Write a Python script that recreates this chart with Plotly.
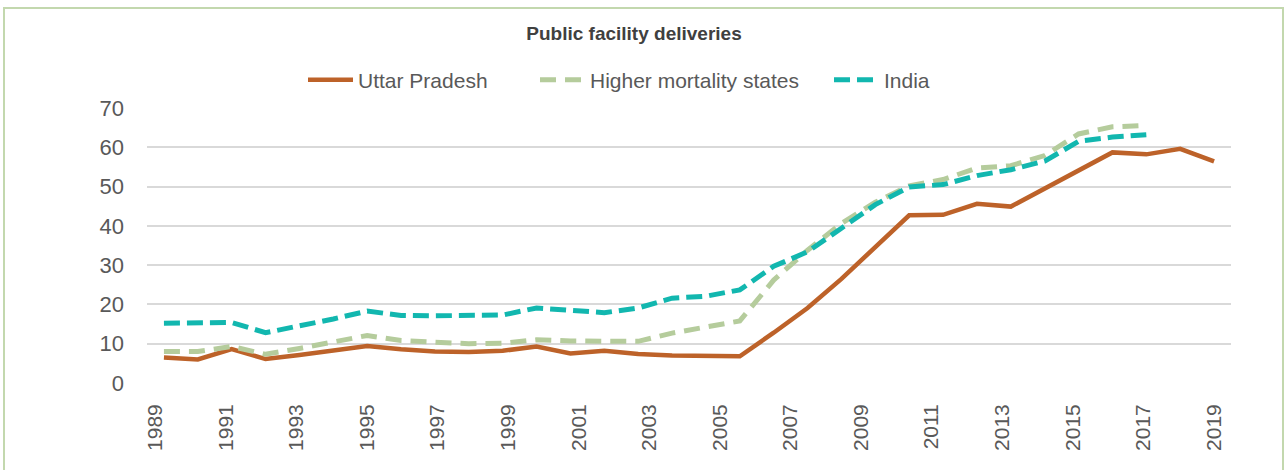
import plotly.graph_objects as go

# ---- data ----
# 32 plotted observations, evenly spaced; the axis labels run 1989-2019 (odd years)
point_index = list(range(32))
tick_years = [1989, 1991, 1993, 1995, 1997, 1999, 2001, 2003, 2005, 2007,
              2009, 2011, 2013, 2015, 2017, 2019]

uttar_pradesh = [6.5, 6.0, 8.6, 6.1, 7.1, 8.2, 9.4, 8.6, 8.0, 7.9, 8.2, 9.3,
                 7.5, 8.2, 7.4, 7.0, 6.8, 6.8, 12.8, 19.1, 26.5, 34.6, 42.7,
                 42.8, 45.6, 44.9, 49.6, 54.3, 58.7, 58.2, 59.6, 56.4]

higher_mortality = [8.0, 8.0, 9.3, 7.3, 8.8, 10.5, 12.1, 10.8, 10.3, 10.0, 10.1,
                    11.0, 10.7, 10.5, 10.6, 12.7, 14.2, 15.8, 26.2, 33.8, 40.6,
                    46.0, 50.2, 51.8, 54.7, 55.3, 57.9, 63.4, 65.2, 65.6,
                    None, None]

india = [15.2, 15.2, 15.4, 12.8, 14.5, 16.3, 18.3, 17.2, 17.1, 17.1, 17.3, 19.1,
         18.5, 17.9, 19.1, 21.6, 22.1, 23.7, 29.7, 33.4, 39.4, 45.4, 49.9, 50.5,
         52.8, 54.3, 56.5, 61.5, 62.6, 63.2, None, None]

# ---- style ----
FONT = "Liberation Sans, Arial, sans-serif"
TXT = "#595959"
W, H = 1285, 470
# plot area in page pixels: x 147..1231, y 108..383
L, R = 147, W - 1231
T, B = 108, H - 383
PW, PH = W - L - R, H - T - B


def px_x(p):          # pixel -> paper x
    return (p - L) / PW


def px_y(p):          # pixel -> paper y
    return (H - B - p) / PH


fig = go.Figure()
fig.add_trace(go.Scatter(
    x=point_index, y=uttar_pradesh, name="Uttar Pradesh", mode="lines",
    line=dict(color="#BD6229", width=4.5), legend="legend"))
fig.add_trace(go.Scatter(
    x=point_index, y=higher_mortality, name="Higher mortality states", mode="lines",
    line=dict(color="#B5CC9C", width=5, dash="16px,9px"), legend="legend2"))
fig.add_trace(go.Scatter(
    x=point_index, y=india, name="India", mode="lines",
    line=dict(color="#12B7AF", width=5, dash="16px,7px"), legend="legend3"))
# carrier for the labelled year axis
fig.add_trace(go.Scatter(
    x=[tick_years[0], tick_years[-1]], y=[None, None], xaxis="x2",
    mode="lines", showlegend=False, hoverinfo="skip"))

leg_common = dict(orientation="h", yanchor="middle", xanchor="left",
                  y=px_y(80), itemwidth=45,
                  font=dict(family=FONT, size=21, color=TXT),
                  bgcolor="rgba(0,0,0,0)")

fig.update_layout(
    width=W, height=H,
    margin=dict(l=L, r=R, t=T, b=B),
    paper_bgcolor="white", plot_bgcolor="white",
    font=dict(family=FONT, color=TXT),
    title=dict(text="<b>Public facility deliveries</b>", xref="container",
               x=634 / W, y=1 - 33 / H,
               xanchor="center", yanchor="middle",
               font=dict(family=FONT, size=19, color="#404040")),
    legend=dict(leg_common, x=px_x(303)),
    legend2=dict(leg_common, x=px_x(535)),
    legend3=dict(leg_common, x=px_x(829)),
    xaxis=dict(range=[-0.5, 31.5], visible=False, showgrid=False),
    xaxis2=dict(overlaying="x", anchor="y", side="bottom",
                range=[1988.77, 2019.48], tickmode="array",
                tickvals=tick_years, ticktext=[str(y) for y in tick_years],
                tickangle=-90, showgrid=False, zeroline=False, showline=False,
                ticks="", ticklabelstandoff=16,
                tickfont=dict(family=FONT, size=21, color=TXT)),
    yaxis=dict(range=[0, 70], dtick=10, showgrid=True, gridcolor="#D9D9D9",
               gridwidth=2, zeroline=False, showline=False, ticks="",
               ticklabelstandoff=22,
               tickfont=dict(family=FONT, size=22, color=TXT)),
    shapes=[dict(type="rect", xref="paper", yref="paper",
                 x0=px_x(4), x1=px_x(1283), y0=px_y(490), y1=px_y(8),
                 line=dict(color="#C3D8AE", width=2), layer="below")],
)

fig.write_html("out.html",
               config={"displayModeBar": False},
               post_script="document.body.style.margin='0';"
                           "document.body.style.overflow='hidden';")
